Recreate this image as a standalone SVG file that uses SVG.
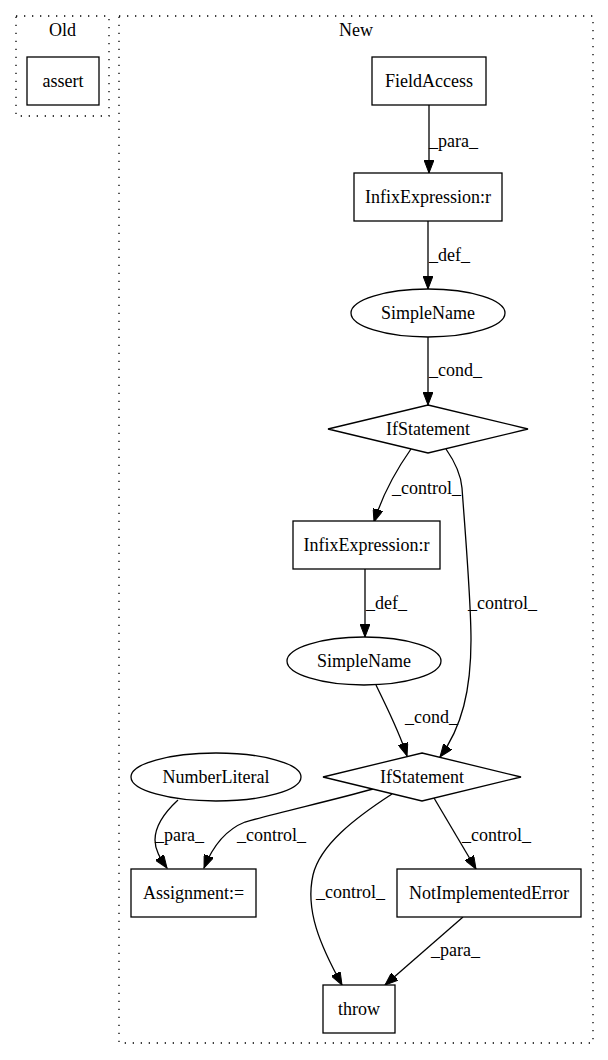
<svg xmlns="http://www.w3.org/2000/svg" width="608" height="1060" viewBox="0 0 608 1060">
<style>
text{font-family:"Liberation Serif","Times New Roman",serif;font-size:18px;fill:#000}
.c{text-anchor:middle}
.cl{fill:none;stroke:#000;stroke-width:1.3;stroke-dasharray:1.3,6.7}
.n{fill:#fff;stroke:#000;stroke-width:1.3}
.e{fill:none;stroke:#000;stroke-width:1.3;marker-end:url(#ah)}
</style>
<defs>
<marker id="ah" markerWidth="14" markerHeight="10" refX="13" refY="5" orient="auto" markerUnits="userSpaceOnUse">
<path d="M0,0 L13,5 L0,10 z" fill="#000" stroke="#000" stroke-width="1"/>
</marker>
</defs>
<rect width="608" height="1060" fill="#fff"/>
<g id="cluster_old">
<rect class="cl" x="16" y="16" width="93" height="100"/>
<text class="c" x="62.5" y="36">Old</text>
</g>
<g id="cluster_new">
<rect class="cl" x="119" y="16" width="474" height="1027"/>
<text class="c" x="356" y="36">New</text>
</g>
<g id="edges">
<path class="e" d="M429,105 L429,173"/>
<text x="429" y="147">_para_</text>
<path class="e" d="M428,221 L428,289"/>
<text x="429" y="261">_def_</text>
<path class="e" d="M428,337 L428,405"/>
<text x="429" y="376">_cond_</text>
<path class="e" d="M411,449 C399,466 384,490 374,522"/>
<text x="392" y="494">_control_</text>
<path class="e" d="M446,449 C455,462 461,475 462,488 C465,530 471,600 471,640 C471,690 462,727 440,757"/>
<text x="468" y="609">_control_</text>
<path class="e" d="M365,569 L365,637"/>
<text x="366" y="609">_def_</text>
<path class="e" d="M376,685 C388,710 399,731 407,756"/>
<text x="405" y="723">_cond_</text>
<path class="e" d="M178,800 C165,812 155,825 155,840 C155,850 160,858 167,868"/>
<text x="155" y="841">_para_</text>
<path class="e" d="M373,789 C330,801 280,812 245,822 C225,830 212,848 204,868"/>
<text x="237" y="841">_control_</text>
<path class="e" d="M392,794 C355,818 320,845 313,875 C305,910 320,945 342,985"/>
<text x="316" y="898">_control_</text>
<path class="e" d="M434,798 L476,869"/>
<text x="462" y="841">_control_</text>
<path class="e" d="M463,917 L385,985"/>
<text x="431" y="956">_para_</text>
</g>
<g id="n_assert">
<rect class="n" x="27" y="57" width="72" height="48"/>
<text class="c" x="63" y="87">assert</text>
</g>
<g id="n_fieldaccess">
<rect class="n" x="372" y="57" width="114" height="48"/>
<text class="c" x="429" y="87">FieldAccess</text>
</g>
<g id="n_infix1">
<rect class="n" x="354" y="173" width="148" height="48"/>
<text class="c" x="428" y="203">InfixExpression:r</text>
</g>
<g id="n_simplename1">
<ellipse class="n" cx="428" cy="313" rx="77" ry="24"/>
<text class="c" x="428" y="319">SimpleName</text>
</g>
<g id="n_if1">
<polygon class="n" points="428,405 528,429 428,453 328,429"/>
<text class="c" x="428" y="435">IfStatement</text>
</g>
<g id="n_infix2">
<rect class="n" x="293" y="521" width="147" height="48"/>
<text class="c" x="366.5" y="551">InfixExpression:r</text>
</g>
<g id="n_simplename2">
<ellipse class="n" cx="364" cy="661" rx="77" ry="24"/>
<text class="c" x="364" y="667">SimpleName</text>
</g>
<g id="n_if2">
<polygon class="n" points="422,753 521,777 422,801 323,777"/>
<text class="c" x="422" y="783">IfStatement</text>
</g>
<g id="n_numberliteral">
<ellipse class="n" cx="216" cy="777" rx="85" ry="24"/>
<text class="c" x="216" y="783">NumberLiteral</text>
</g>
<g id="n_assignment">
<rect class="n" x="131" y="869" width="125" height="48"/>
<text class="c" x="193.5" y="899">Assignment:=</text>
</g>
<g id="n_notimpl">
<rect class="n" x="397" y="869" width="184" height="48"/>
<text class="c" x="489" y="899">NotImplementedError</text>
</g>
<g id="n_throw">
<rect class="n" x="323" y="985" width="72" height="48"/>
<text class="c" x="359" y="1015">throw</text>
</g>
</svg>
